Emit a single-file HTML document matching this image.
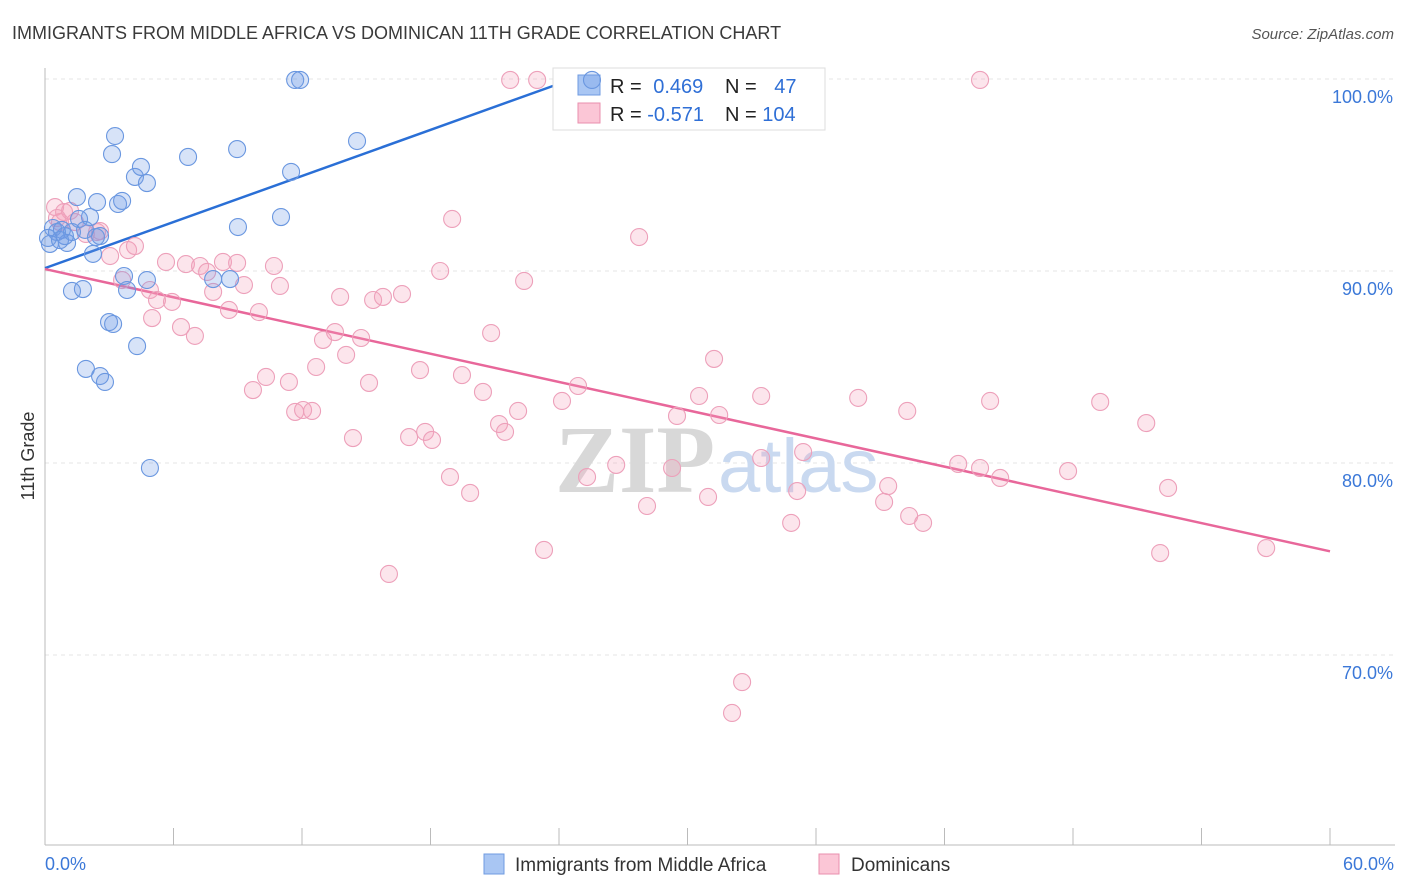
<!DOCTYPE html>
<html><head><meta charset="utf-8"><style>
body{margin:0;background:#fff;font-family:"Liberation Sans",sans-serif;}
svg{display:block}
</style></head><body>
<svg id="chart" width="1406" height="892" xmlns="http://www.w3.org/2000/svg">
<text x="12" y="39" font-size="18" fill="#3a3a3a">IMMIGRANTS FROM MIDDLE AFRICA VS DOMINICAN 11TH GRADE CORRELATION CHART</text>
<text x="1394" y="39" font-size="15" fill="#555" text-anchor="end" font-style="italic">Source: ZipAtlas.com</text>
<g id="grid"></g>
<g id="axes"></g>
<text x="555" y="492" font-size="96" fill="#d8d8d8" font-family="Liberation Serif,serif" font-weight="bold">ZIP</text>
<text x="718" y="492" font-size="76" fill="#c9d9f0">atlas</text>
<g id="trends"></g>
<g>
<rect x="553" y="68" width="272" height="62" fill="#fff" stroke="#ddd"/>
<rect x="578" y="75" width="22" height="20" fill="#a9c6f3" stroke="#6f9be0"/>
<rect x="578" y="103" width="22" height="20" fill="#fbc6d6" stroke="#ea8fae"/>
<text x="610" y="93" font-size="20" fill="#222">R = <tspan fill="#2f6fd6" dx="6">0.469</tspan></text>
<text x="725" y="93" font-size="20" fill="#222">N = <tspan fill="#2f6fd6" dx="12">47</tspan></text>
<text x="610" y="121" font-size="20" fill="#222">R = <tspan fill="#2f6fd6">-0.571</tspan></text>
<text x="725" y="121" font-size="20" fill="#222">N = <tspan fill="#2f6fd6">104</tspan></text>
</g>
<g id="pink"></g>
<g id="blue"></g>
<text x="34" y="456" font-size="18" fill="#333" text-anchor="middle" transform="rotate(-90 34 456)">11th Grade</text>
<g>
<rect x="484" y="854" width="20" height="20" fill="#a9c6f3" stroke="#6f9be0"/>
<text x="515" y="871" font-size="19" fill="#333">Immigrants from Middle Africa</text>
<rect x="819" y="854" width="20" height="20" fill="#fbc6d6" stroke="#ea8fae"/>
<text x="851" y="871" font-size="19" fill="#333">Dominicans</text>
</g>
</svg>
<script>
const xTicks=[0,6,12,18,24,30,36,42,48,54,60];
const yTicks=[70,80,90,100];
const yTickLabels=["70.0%","80.0%","90.0%","100.0%"];
const blueX=[0.23,0.37,0.56,0.79,1.03,1.26,0.93,0.14,1.49,2.10,2.43,2.57,2.24,1.59,3.13,3.27,4.20,4.48,4.76,3.41,3.60,6.68,8.97,9.01,11.02,11.49,11.68,11.91,14.57,3.69,4.76,3.83,7.85,8.64,1.26,1.77,2.99,3.18,4.30,1.91,2.57,2.80,4.90,2.38,0.70,1.87,25.54];
const blueY=[91.41,92.24,92.03,92.14,91.46,92.03,91.82,91.72,93.85,92.81,93.59,91.82,90.89,92.71,96.09,97.03,94.90,95.42,94.58,93.49,93.65,95.94,96.35,92.29,92.81,95.16,99.95,99.95,96.77,89.74,89.53,89.01,89.58,89.58,88.96,89.06,87.34,87.24,86.09,84.90,84.53,84.22,79.74,91.77,91.61,92.14,99.95];
const pinkX=[0.47,0.89,1.17,1.40,1.91,2.43,0.70,3.04,3.88,4.20,3.60,4.90,5.23,5.93,5.65,6.58,7.24,7.57,7.85,8.31,8.97,9.29,8.59,9.99,10.69,10.97,6.35,7.00,5.00,9.71,10.32,11.39,11.68,12.05,12.47,12.66,12.98,13.54,13.78,14.06,14.76,15.32,15.78,16.67,15.13,14.38,17.51,17.00,17.75,18.07,19.47,20.45,18.91,19.85,21.20,21.48,22.09,20.83,18.45,19.01,22.37,21.72,22.98,24.14,24.89,25.31,26.67,27.74,28.11,29.28,29.51,30.96,30.54,31.24,31.48,33.44,33.44,34.84,35.12,35.40,37.97,39.37,39.18,40.26,40.35,41.00,42.64,43.66,43.66,44.13,44.60,47.77,49.27,51.42,52.44,52.07,57.02,23.30,16.06,32.55,32.08,0.56,2.57];
const pinkY=[93.33,93.07,93.13,92.55,91.93,92.03,92.55,90.78,91.09,91.30,89.53,89.01,88.49,88.39,90.47,90.36,90.26,89.95,88.91,90.47,90.42,89.27,87.97,87.86,90.26,89.22,87.08,86.62,87.55,83.80,84.48,84.22,82.66,82.76,82.71,85.00,86.41,86.82,88.65,85.63,86.51,88.49,88.65,88.80,84.17,81.30,84.84,81.35,81.62,81.20,84.58,83.70,79.27,78.44,82.03,81.62,82.71,86.77,90.00,92.71,89.48,99.95,99.95,83.23,84.01,79.27,79.90,91.77,77.76,79.74,82.45,78.23,83.49,85.42,82.50,83.49,80.26,76.88,78.54,80.57,83.39,78.80,77.97,82.71,77.24,76.88,79.95,99.95,79.74,83.23,79.22,79.58,83.18,82.08,78.70,75.31,75.57,75.47,74.22,68.59,66.98,92.76,92.08];
const blueTrend=[90.15,0.40];   // intercept, slope
const pinkTrend=[90.10,-0.245];
const NS="http://www.w3.org/2000/svg";
const X=v=>45+v/60*1285;
const Y=v=>79+(100-v)*19.2;
function mk(tag,attrs,parent){const e=document.createElementNS(NS,tag);for(const k in attrs)e.setAttribute(k,attrs[k]);parent.appendChild(e);return e;}
const grid=document.getElementById('grid'),axes=document.getElementById('axes');
yTicks.forEach((t,i)=>{
 const l=mk('line',{x1:45,x2:1395,y1:Y(t),y2:Y(t),stroke:'#e4e4e4','stroke-dasharray':'4,4'},grid);
 
 
 const tx=mk('text',{x:1393,y:Y(t)+24,'font-size':18,fill:'#3b78d8','text-anchor':'end'},axes);
 tx.textContent=yTickLabels[i];
 
 
});
const ax=mk('line',{x1:45,x2:45,y1:68,y2:845,stroke:'#bbb'},axes);


const bx=mk('line',{x1:45,x2:1395,y1:845,y2:845,stroke:'#bbb'},axes);


xTicks.forEach(t=>{
 const l=mk('line',{x1:X(t),x2:X(t),y1:828,y2:845,stroke:'#bbb'},axes);
 
 
});
[[0,'0.0%','start',45],[60,'60.0%','end',1394]].forEach(d=>{
 const tx=mk('text',{x:d[3],y:870,'font-size':18,fill:'#3b78d8','text-anchor':d[2]},axes);
 tx.textContent=d[1];
 
 
});
function pts(xs,ys,g,fill,stroke,name){xs.forEach((x,i)=>{
 const c=mk('circle',{cx:X(x),cy:Y(ys[i]),r:8.5,fill:fill,stroke:stroke,'stroke-width':1.1},g);
 
 
});}
pts(pinkX,pinkY,document.getElementById('pink'),'rgba(244,160,188,0.28)','#eda0ba','dominican-point');
pts(blueX,blueY,document.getElementById('blue'),'rgba(110,155,230,0.28)','#6a97e0','middle-africa-point');
const tr=document.getElementById('trends');
const bEnd=(100-blueTrend[0])/blueTrend[1];
const l1=mk('line',{x1:X(0),y1:Y(blueTrend[0]),x2:X(bEnd),y2:Y(100),stroke:'#2a6fd6','stroke-width':2.5},tr);


const l2=mk('line',{x1:X(0),y1:Y(pinkTrend[0]),x2:X(60),y2:Y(pinkTrend[0]+pinkTrend[1]*60),stroke:'#e8679a','stroke-width':2.5},tr);


</script>
</body></html>
